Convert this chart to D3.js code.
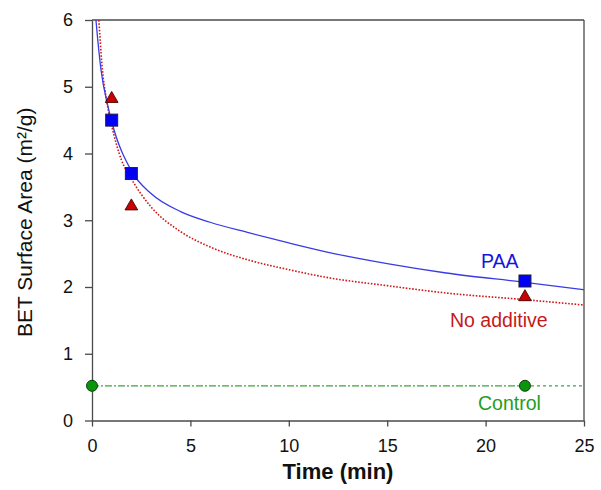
<!DOCTYPE html>
<html>
<head>
<meta charset="utf-8">
<script src="https://cdn.jsdelivr.net/npm/d3@7"></script>
<style>
  html, body { margin: 0; padding: 0; background: #fff; }
  svg { display: block; font-family: "Liberation Sans", Arial, sans-serif; }
</style>
</head>
<body>
<svg id="chart" width="601" height="490"></svg>
<script>
// Measured BET surface area (m²/g) at each sampling time (min)
const paaTime = [1, 2, 22];
const paaArea = [4.5, 3.7, 2.09];
const noAddTime = [1, 2, 22];
const noAddArea = [4.82, 3.21, 1.85];
const controlTime = [0, 22];
const controlArea = [0.52, 0.52];

// Fitted trend curves, sampled along time
const paaFitTime = [0.2, 0.3, 0.46, 0.8, 1, 2, 3, 4.5, 6, 8, 10, 12, 15, 18, 22, 25];
const paaFitArea = [6.0, 5.68, 5.25, 4.72, 4.48, 3.74, 3.4, 3.13, 2.97, 2.81, 2.66, 2.52, 2.35, 2.21, 2.07, 1.96];
const noAddFitTime = [0.35, 0.5, 0.75, 1, 1.5, 2, 3, 4.5, 6, 8, 10, 12, 15, 18, 22, 25];
const noAddFitArea = [6.0, 5.35, 4.78, 4.42, 3.9, 3.62, 3.2, 2.83, 2.6, 2.4, 2.26, 2.14, 2.02, 1.91, 1.81, 1.73];
const controlLevel = 0.52;

// Axis ticks and labels
const xTicks = [0, 5, 10, 15, 20, 25];
const yTicks = [0, 1, 2, 3, 4, 5, 6];
const xTitle = "Time (min)";
const yTitle = "BET Surface Area (m²/g)";
const seriesLabels = ["PAA", "No additive", "Control"];

const svg = d3.select("#chart");
const plotLeft = 92, plotRight = 584, plotTop = 20, plotBottom = 420.5;

const x = d3.scaleLinear().domain([0, 25]).range([plotLeft, plotRight]);
const y = d3.scaleLinear().domain([0, 6]).range([plotBottom, plotTop]);

const axisColor = "#4a4a4a";

// Clip region for the curves
svg.append("defs").append("clipPath").attr("id", "plot-clip")
  .append("rect").attr("x", plotLeft).attr("y", plotTop)
  .attr("width", plotRight - plotLeft).attr("height", plotBottom - plotTop);

// Axes
const xAxis = svg.append("g").attr("transform", `translate(0,${plotBottom})`)
  .call(d3.axisBottom(x).tickValues(xTicks).tickFormat(d3.format("d"))
    .tickSize(6).tickPadding(12.5).tickSizeOuter(0));
const yAxis = svg.append("g").attr("transform", `translate(${plotLeft},0)`)
  .call(d3.axisLeft(y).tickValues(yTicks).tickFormat(d3.format("d"))
    .tickSize(7).tickPadding(12).tickSizeOuter(0));
[xAxis, yAxis].forEach(g => {
  g.select(".domain").attr("stroke", axisColor).attr("stroke-width", 1.3);
  g.selectAll(".tick line").attr("stroke", axisColor).attr("stroke-width", 1.3);
  g.selectAll(".tick text").attr("fill", "#111").style("font-size", "18px")
    .style("font-family", "'Liberation Sans', Arial, sans-serif");
});

// Top and right frame lines
svg.append("line").attr("x1", plotLeft).attr("x2", plotRight).attr("y1", plotTop).attr("y2", plotTop)
  .attr("stroke", axisColor).attr("stroke-width", 1.3);
svg.append("line").attr("x1", plotRight).attr("x2", plotRight).attr("y1", plotTop).attr("y2", plotBottom)
  .attr("stroke", axisColor).attr("stroke-width", 1.3);

// Axis titles
svg.append("text").attr("x", (plotLeft + plotRight) / 2).attr("y", 479)
  .attr("text-anchor", "middle").style("font-size", "22px").style("font-weight", "bold")
  .attr("fill", "#111").text(xTitle);
svg.append("text").attr("transform", `translate(32,${(plotTop + plotBottom) / 2 + 2}) rotate(-90)`)
  .attr("text-anchor", "middle").style("font-size", "21px")
  .attr("fill", "#111").text(yTitle);

const plot = svg.append("g").attr("clip-path", "url(#plot-clip)");
const line = d3.line().x(d => x(d[0])).y(d => y(d[1])).curve(d3.curveMonotoneX);

// Control reference line: dash-dot across the measured span, dashed beyond it
plot.append("path")
  .attr("d", line([[controlTime[0], controlLevel], [controlTime[1], controlLevel]]))
  .attr("fill", "none").attr("stroke", "#3aa53a").attr("stroke-width", 1.3)
  .attr("stroke-dasharray", "7,2,2,2");
plot.append("path")
  .attr("d", line([[controlTime[1], controlLevel], [25, controlLevel]]))
  .attr("fill", "none").attr("stroke", "#3aa53a").attr("stroke-width", 1.3)
  .attr("stroke-dasharray", "3,3");

// No additive trend (dotted red)
plot.append("path")
  .attr("d", line(d3.zip(noAddFitTime, noAddFitArea)))
  .attr("fill", "none").attr("stroke", "#d01818").attr("stroke-width", 1.6)
  .attr("stroke-dasharray", "1.6,1.6");

// PAA trend (solid blue)
plot.append("path")
  .attr("d", line(d3.zip(paaFitTime, paaFitArea)))
  .attr("fill", "none").attr("stroke", "#3a3ae6").attr("stroke-width", 1.3);

// Control markers
svg.append("g").selectAll("circle").data(d3.zip(controlTime, controlArea)).join("circle")
  .attr("cx", d => x(d[0])).attr("cy", d => y(d[1])).attr("r", 5.5)
  .attr("fill", "#0a960a").attr("stroke", "#0c3d0c").attr("stroke-width", 1);

// No additive markers (triangles)
const tri = d3.symbol().type(d3.symbolTriangle).size(70);
svg.append("g").selectAll("path").data(d3.zip(noAddTime, noAddArea)).join("path")
  .attr("d", tri).attr("transform", d => `translate(${x(d[0])},${y(d[1])})`)
  .attr("fill", "#c80000").attr("stroke", "#4a0000").attr("stroke-width", 0.9);

// PAA markers (squares)
const sq = 12;
svg.append("g").selectAll("rect").data(d3.zip(paaTime, paaArea)).join("rect")
  .attr("x", d => x(d[0]) - sq / 2).attr("y", d => y(d[1]) - sq / 2)
  .attr("width", sq).attr("height", sq)
  .attr("fill", "#0000f5").attr("stroke", "#202040").attr("stroke-width", 1);

// Series labels
svg.append("text").attr("x", 481).attr("y", 268).style("font-size", "19.5px")
  .attr("fill", "#1414e0").text(seriesLabels[0]);
svg.append("text").attr("x", 450).attr("y", 327).style("font-size", "19.5px")
  .attr("fill", "#c41a1a").text(seriesLabels[1]);
svg.append("text").attr("x", 478).attr("y", 410).style("font-size", "19.5px")
  .attr("fill", "#1f9e1f").text(seriesLabels[2]);
</script>
</body>
</html>
